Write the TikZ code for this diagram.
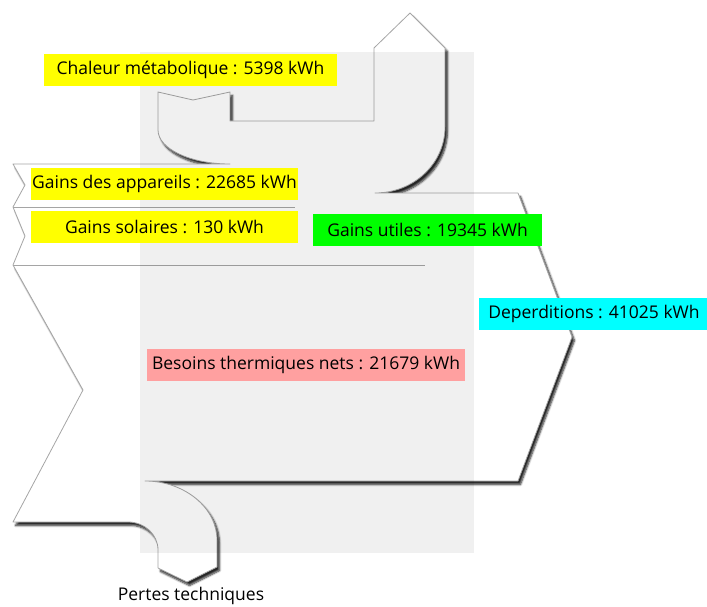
\documentclass[tikz,border=0pt]{standalone}
\usepackage{fontspec}
\setmainfont{Open Sans}
\usetikzlibrary{shadows.blur}
\definecolor{pinkbox}{RGB}{255,160,160}
\definecolor{cyanbox}{RGB}{0,255,255}
\definecolor{greenbox}{RGB}{0,255,0}
\definecolor{yellowbox}{RGB}{255,255,0}
\definecolor{edgegray}{RGB}{165,165,165}

\begin{document}
\begin{tikzpicture}[
		x=1pt, y=-1pt,
		flow/.style={draw=edgegray, line width=0.8pt, fill=white, line join=round,
				blur shadow={shadow xshift=2.5pt, shadow yshift=-3.5pt, shadow opacity=85,
						shadow blur steps=6, shadow blur radius=2pt}},
		sep/.style={draw=edgegray, line width=0.8pt},
		lbl/.style={rectangle, inner sep=0pt, minimum height=32pt, font=\fontsize{17.5}{20}\selectfont}
	]
	\useasboundingbox (0,0) rectangle (707,607);

	\path[flow] (13,164) -- (230,164)
	.. controls (190.2,164) and (158,148.8) .. (158,130)
	-- (158,92) -- (193,100) -- (230,92) -- (230,121) -- (374,121) -- (374,48)
	-- (410,13) -- (445,48) -- (445,127)
	.. controls (445,163.5) and (413.7,193) .. (375,193)
	-- (518,193) -- (572,337) -- (518,481) -- (145,481)
	.. controls (184.8,481) and (217,508) .. (217,540)
	-- (217,567) -- (187,582) -- (158,568) -- (158,550)
	.. controls (158,534.5) and (144.6,522) .. (128,522)
	-- (13,522) -- (83,390) -- (13,265) -- (25,236) -- (13,207) -- (25,185) -- cycle;

	\draw[sep] (13,207) -- (295,207);
	\draw[sep] (13,265) -- (425,265);

	\fill[black, fill opacity=0.06] (140,52) rectangle (474,553);

	\node[lbl, fill=yellowbox, minimum width=293pt] (chaleur) at (190.5,70) {Chaleur métabolique : 5398 kWh};
	\node[lbl, fill=yellowbox, minimum width=267pt] (appareils) at (164.5,184) {Gains des appareils : 22685 kWh};
	\node[lbl, fill=yellowbox, minimum width=267pt] (solaires) at (164.5,227) {Gains solaires : 130 kWh};
	\node[lbl, fill=greenbox, minimum width=229pt] (utiles) at (427.5,230) {Gains utiles : 19345 kWh};
	\node[lbl, fill=cyanbox, minimum width=230pt] (deperd) at (594,313.5) {Deperditions : 41025 kWh};
	\node[lbl, fill=pinkbox, minimum width=318pt] (besoins) at (306,365) {Besoins thermiques nets : 21679 kWh};
	\node[lbl] (pertes) at (191,596) {Pertes techniques};
\end{tikzpicture}
\end{document}
